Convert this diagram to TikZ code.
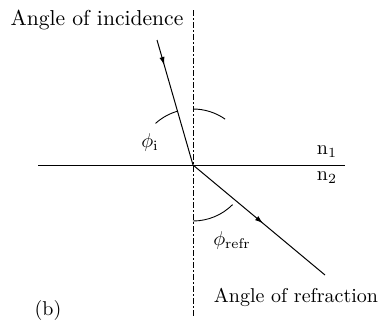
\documentclass[tikz,border=0pt]{standalone}
\usepackage{amsmath}
\usetikzlibrary{arrows.meta,decorations.markings}
\tikzset{
  ray/.style={line width=0.5pt},
  midarrow/.style={postaction={decorate},decoration={markings,
      mark=at position #1 with {\arrow{Latex[length=4pt,width=2.6pt]}}}},
  normalline/.style={line width=0.45pt,dash pattern=on 3pt off 1.2pt on 0.6pt off 1.2pt},
  anglearc/.style={line width=0.45pt},
  lbl/.style={inner sep=0pt}
}
\begin{document}
\begin{tikzpicture}[x=0.5pt,y=0.5pt,font=\normalsize]
  \useasboundingbox (0,0) rectangle (381,323);
  % points
  \coordinate (O) at (193,158);
  \coordinate (normtop) at (193,313);
  \coordinate (normbot) at (193,5);
  \coordinate (ifleft) at (38,158);
  \coordinate (ifright) at (345,158);
  \coordinate (inctop) at (157,283);
  \coordinate (refrend) at (325,48);
  % lines
  \draw[normalline] (normtop) -- (normbot);
  \draw[ray] (ifleft) -- (ifright);
  \draw[ray,midarrow=0.2] (inctop) -- (O);
  \draw[ray,midarrow=0.53] (O) -- (refrend);
  % angle arcs
  \draw[anglearc] (O) ++(132:28pt) arc[start angle=132,end angle=106,radius=28pt];
  \draw[anglearc] (O) ++(90:28pt) arc[start angle=90,end angle=55,radius=28pt];
  \draw[anglearc] (O) ++(-90:28pt) arc[start angle=-90,end angle=-45,radius=28pt];
  % labels
  \node[lbl,font=\fontsize{10.8}{13}\selectfont] (incid) at (97,303) {Angle of incidence};
  \node[lbl] (phii) at (150,181) {$\phi_{\mathrm{i}}$};
  \node[lbl] (none) at (327,171) {$\mathrm{n}_1$};
  \node[lbl] (ntwo) at (327,145) {$\mathrm{n}_2$};
  \node[lbl] (phirefr) at (232,83) {$\phi_{\mathrm{refr}}$};
  \node[lbl] (refr) at (296,26) {Angle of refraction};
  \node[lbl] (caption) at (48,13) {(b)};
\end{tikzpicture}
\end{document}
